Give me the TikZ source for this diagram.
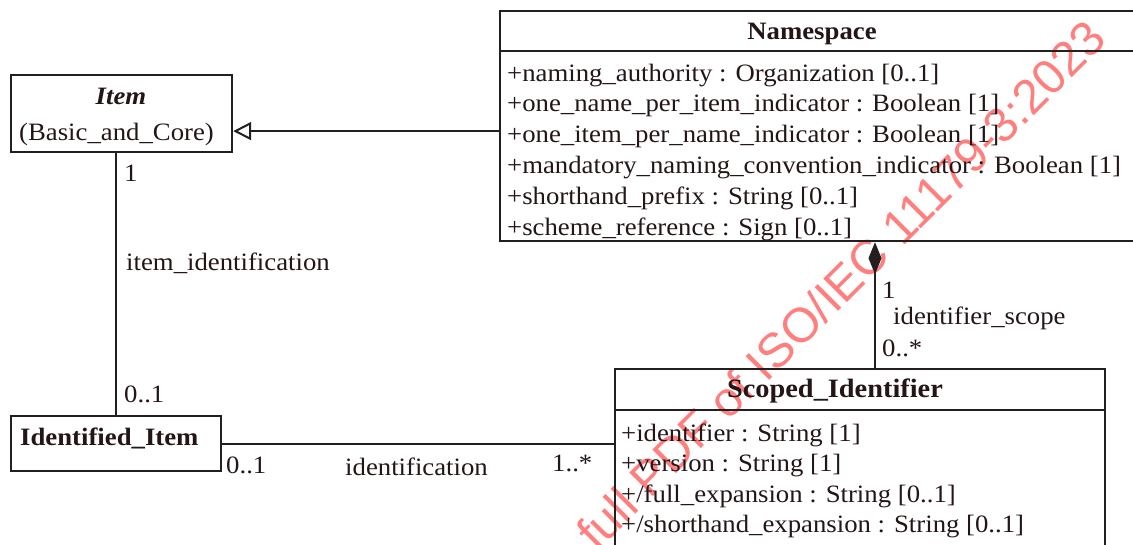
\documentclass[tikz,border=0pt]{standalone}
\usepackage{fontspec}
\setmainfont{Liberation Serif}[FakeStretch=1.07]
\newfontfamily\wmfont{Liberation Sans}
\usetikzlibrary{arrows.meta}
\definecolor{ink}{RGB}{35,31,32}
\definecolor{txt}{RGB}{36,22,22}
\definecolor{wm}{RGB}{255,105,105}
\begin{document}
\begin{tikzpicture}[x=1pt,y=-1pt,
  font=\fontsize{25}{30.8}\selectfont,
  box/.style={draw=ink, line width=2.2pt, rectangle, inner sep=0pt, anchor=north west},
  lbl/.style={anchor=base west, inner sep=0pt, text=txt},
  ttl/.style={anchor=base, inner sep=0pt, text=txt, font=\fontsize{25}{30}\selectfont\bfseries},
  conn/.style={draw=ink, line width=2.2pt}]
\useasboundingbox (0,0) rectangle (1133,544);
\clip (0,0) rectangle (1133,544);

% watermark
\node[rotate=45, text=wm, opacity=0.85, font=\wmfont\fontsize{48.5}{48.5}\selectfont,
      anchor=base west, inner sep=0pt] (wmk) at (597,553) {full PDF of ISO/IEC 11179-3:2023};

% boxes
\node[box, minimum width=221pt, minimum height=77pt] (item) at (10,74) {};
\node[box, minimum width=650pt, minimum height=230pt] (ns) at (499,10) {};
\node[box, minimum width=490pt, minimum height=200pt] (sid) at (614,368) {};
\node[box, minimum width=210pt, minimum height=55pt] (ii) at (10,415) {};
\coordinate (nssep) at (0,51);
\coordinate (sidsep) at (0,410);
\draw[conn] (ns.west |- nssep) -- (ns.east |- nssep);
\draw[conn] (sid.west |- sidsep) -- (sid.east |- sidsep);

% titles
\node[ttl, font=\fontsize{25}{30}\selectfont\bfseries\itshape] (itemt) at (121,104) {Item};
\node[lbl] (itemsub) at (19,140) {(Basic\_and\_Core)};
\node[ttl] (nst) at (812,39) {Namespace};
\node[ttl, font=\fontsize{26.5}{30}\selectfont\bfseries] (sidt) at (835,397) {Scoped\_Identifier};
\node[lbl, font=\fontsize{25}{30}\selectfont\bfseries] (iit) at (20,445) {Identified\_Item};

% Namespace attributes
\node[lbl] (na1) at (507,81) {+naming\_authority : Organization [0..1]};
\node[lbl] (na2) at (507,111.8) {+one\_name\_per\_item\_indicator : Boolean [1]};
\node[lbl] (na3) at (507,142.6) {+one\_item\_per\_name\_indicator : Boolean [1]};
\node[lbl] (na4) at (507,173.4) {+mandatory\_naming\_convention\_indicator : Boolean [1]};
\node[lbl] (na5) at (507,204.2) {+shorthand\_prefix : String [0..1]};
\node[lbl] (na6) at (507,235) {+scheme\_reference : Sign [0..1]};

% Scoped_Identifier attributes
\node[lbl] (sa1) at (621,441) {+identifier : String [1]};
\node[lbl] (sa2) at (621,471.5) {+version : String [1]};
\node[lbl] (sa3) at (621,502) {+/full\_expansion : String [0..1]};
\node[lbl] (sa4) at (621,532.5) {+/shorthand\_expansion : String [0..1]};

% generalization
\draw[conn, -{Triangle[open, length=18pt, width=18pt, fill=white, line width=2pt]}]
  ([yshift=-5pt]ns.west) coordinate (g1) -- (g1 -| item.east);

% item_identification
\draw[conn] (ii.north) -- (ii.north |- item.south);
\node[lbl] (m1) at (124,181) {1};
\node[lbl] (a1) at (126,270) {item\_identification};
\node[lbl] (m2) at (124,402) {0..1};

% identification
\draw[conn] (ii.east) -- (ii.east -| sid.west);
\node[lbl] (m3) at (226,473) {0..1};
\node[lbl] (a2) at (345,475) {identification};
\node[lbl] (m4) at (552,471) {1..*};

% identifier_scope (composition)
\coordinate (cx) at (875,0);
\draw[conn, {Diamond[length=32pt, width=13pt, fill=ink]}-] (ns.south -| cx) -- (sid.north -| cx);
\node[lbl] (m5) at (882,298) {1};
\node[lbl] (a3) at (893,324) {identifier\_scope};
\node[lbl] (m6) at (882,356) {0..*};
\end{tikzpicture}
\end{document}
